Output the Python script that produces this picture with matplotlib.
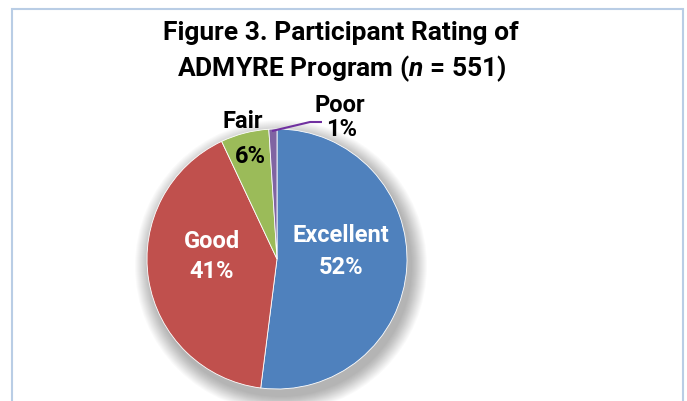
import matplotlib
matplotlib.use("Agg")
import matplotlib.pyplot as plt
from matplotlib.patches import Rectangle, Circle

categories = ["Excellent", "Good", "Fair", "Poor"]
percents = [52, 41, 6, 1]
colors = ["#4F81BD", "#C0504D", "#9BBB59", "#8064A2"]
title_line1 = "Figure 3. Participant Rating of"
title_line2 = r"ADMYRE Program ($\mathit{n}$ = 551)"

FONT = "Roboto"
plt.rcParams['font.family'] = [FONT, 'DejaVu Sans']
plt.rcParams['mathtext.fontset'] = 'custom'
plt.rcParams['mathtext.it'] = FONT + ':italic:bold'
plt.rcParams['mathtext.rm'] = FONT + ':bold'
plt.rcParams['mathtext.bf'] = FONT + ':bold'

W, H = 687, 402
fig = plt.figure(figsize=(W / 100, H / 100), dpi=100)
ax = fig.add_axes([0, 0, 1, 1])


def Y(y):
    return H - y


# soft shadow
cx, cy, r = 277, 260, 130
for i in range(16):
    ax.add_patch(Circle((cx + 4, Y(cy + 7)), r + 16 - i, color="black", alpha=0.02, lw=0, zorder=1))

wedges, _ = ax.pie(percents, colors=colors, startangle=90, counterclock=False,
                   center=(cx, Y(cy)), radius=r, frame=True,
                   wedgeprops=dict(edgecolor="white", linewidth=0.6, zorder=2))
ax.set_xlim(0, W)
ax.set_ylim(0, H)
ax.set_aspect("auto")
ax.axis("off")

# frame
ax.add_patch(Rectangle((12, Y(430)), 671, 420, fill=False, edgecolor="#B9CDE5", lw=1.5, zorder=0))

fs_t = 19
ax.text(341, Y(33), title_line1, ha="center", va="center", fontsize=fs_t, fontweight="bold")
ax.text(342, Y(69), title_line2, ha="center", va="center", fontsize=fs_t, fontweight="bold")

fs = 17
kw = dict(ha="center", va="center", fontsize=fs, fontweight="bold", zorder=5)
ax.text(341, Y(236), categories[0], color="white", **kw)
ax.text(341, Y(268), f"{percents[0]}%", color="white", **kw)
ax.text(212, Y(242), categories[1], color="white", **kw)
ax.text(212, Y(272), f"{percents[1]}%", color="white", **kw)
ax.text(243, Y(122), categories[2], color="black", **kw)
ax.text(250, Y(157), f"{percents[2]}%", color="black", **kw)
ax.text(340, Y(105), categories[3], color="black", **kw)
ax.text(342, Y(130), f"{percents[3]}%", color="black", **kw)

ax.plot([272, 310, 322], [Y(132), Y(123), Y(123)], color="#7030A0", lw=1.5, zorder=4,
        solid_capstyle="butt")

fig.savefig("out.png", dpi=100)
